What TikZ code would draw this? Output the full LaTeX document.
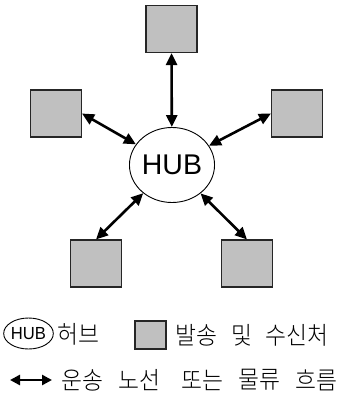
\documentclass[tikz,border=0pt]{standalone}
\usepackage{fontspec}
\setmainfont{Liberation Sans}
\newfontfamily\kr{Noto Sans CJK KR Light}
\usetikzlibrary{shapes.geometric,arrows.meta}
\tikzset{
  site/.style={draw=black!85, line width=1.1pt, fill={rgb,255:red,192;green,192;blue,192}, minimum width=51pt, minimum height=47pt, inner sep=0pt},
  hubnode/.style={ellipse, draw=black, line width=0.9pt, fill=white, minimum width=80pt, minimum height=75pt, inner sep=0pt, font=\fontsize{28.5}{30}\selectfont},
  link/.style={line width=2.6pt, {Triangle[length=12pt,width=11pt]}-{Triangle[length=12pt,width=11pt]}},
  legtext/.style={anchor=west, inner sep=0pt, font=\kr\fontsize{24.5}{26}\selectfont}
}
\begin{document}
\begin{tikzpicture}[x=1pt,y=-1pt]
\useasboundingbox (0,0) rectangle (343,394);
% main diagram
\node[hubnode] (hub) at (172,165) {HUB};
\node[site] (T) at (171.5,29) {};
\node[site] (L) at (56,113.5) {};
\node[site] (R) at (297,113.5) {};
\node[site] (BL) at (96,263.5) {};
\node[site] (BR) at (247,263.5) {};
\draw[link] (T.south) -- (hub);
\draw[link] (L.east) -- (hub);
\draw[link] (R.west) -- (hub);
\draw[link] (BL.north) -- (hub);
\draw[link] (BR.north) -- (hub);
% legend
\node[ellipse, draw=black, line width=0.9pt, minimum width=41pt, minimum height=31pt, inner sep=0pt, font=\fontsize{17.5}{18}\selectfont] (lhub) at (28.5,333.5) {\scalebox{0.95}[1]{HUB}};
\node[legtext] (lhubt) at (57,334) {\scalebox{0.93}[1]{허브}};
\node[site, minimum width=31pt, minimum height=28pt] (lsite) at (150.5,335) {};
\node[legtext] (w1) at (175,335) {\scalebox{0.93}[1]{발송}};
\node[legtext] (w2) at (231,335) {\scalebox{0.93}[1]{및}};
\node[legtext] (w3) at (265,335) {\scalebox{0.93}[1]{수신처}};
\coordinate (a1) at (10,380);
\coordinate (a2) at (52,380);
\draw[line width=2.6pt, {Triangle[length=10pt,width=10pt]}-{Triangle[length=10pt,width=10pt]}] (a1) -- (a2);
\node[legtext] (f1) at (61,380) {\scalebox{0.93}[1]{운송}};
\node[legtext] (f2) at (118,380) {\scalebox{0.93}[1]{노선}};
\node[legtext] (f3) at (181,380) {\scalebox{0.93}[1]{또는}};
\node[legtext] (f4) at (238,380) {\scalebox{0.93}[1]{물류}};
\node[legtext] (f5) at (295,380) {\scalebox{0.93}[1]{흐름}};
\end{tikzpicture}
\end{document}
